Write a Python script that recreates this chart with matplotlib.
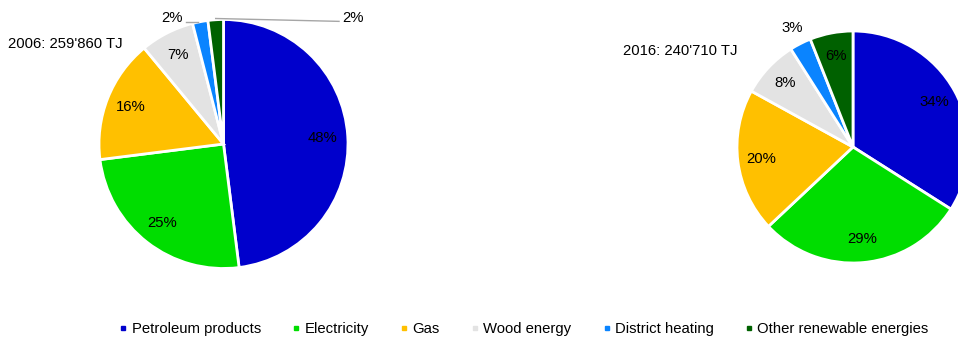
import numpy as np
import matplotlib
matplotlib.use("Agg")
import matplotlib.pyplot as plt
from matplotlib.lines import Line2D

plt.rcParams['font.family'] = ['Liberation Sans', 'DejaVu Sans']
plt.rcParams['font.size'] = 10.7

# 数据
categories = ["Petroleum products", "Electricity", "Gas", "Wood energy",
              "District heating", "Other renewable energies"]
colors = ["#0000CC", "#00DD00", "#FFC000", "#E3E3E3", "#0A84FF", "#006100"]
share_2006 = [48, 25, 16, 7, 2, 2]
share_2016 = [34, 29, 20, 8, 3, 6]
title_2006 = "2006: 259'860 TJ"
title_2016 = "2016: 240'710 TJ"

W, H = 958, 342
fig = plt.figure(figsize=(W / 100, H / 100), dpi=100)


def pie_axes(cx, cy, r):
    # 按像素位置放置饼图
    return fig.add_axes([(cx - r) / W, (H - cy - r) / H, 2 * r / W, 2 * r / H])


def draw_pie(ax, values):
    wedges, _ = ax.pie(values, colors=colors, startangle=90, counterclock=False,
                       radius=1, wedgeprops=dict(edgecolor="white", linewidth=2))
    ax.set_xlim(-1, 1)
    ax.set_ylim(-1, 1)
    ax.set_aspect("auto")
    ax.axis("off")
    return wedges


def mid_dir(w):
    a = np.deg2rad((w.theta1 + w.theta2) / 2)
    return np.cos(a), np.sin(a)


# 2006
ax1 = pie_axes(223.5, 144, 124.5)
w1 = draw_pie(ax1, share_2006)
for i, (w, v) in enumerate(zip(w1, share_2006)):
    dx, dy = mid_dir(w)
    if i < 4:
        ax1.text(0.8 * dx, 0.8 * dy, f"{v}%", ha="center", va="center")

# 小扇区: 引线标签
dx, dy = mid_dir(w1[4])
ax1.plot([-0.30, dx - 0.02], [0.98, 0.98], color="#A6A6A6", lw=1, clip_on=False)
ax1.text(-0.41, 1.01, f"{share_2006[4]}%", ha="center", va="center")
dx, dy = mid_dir(w1[5])
ax1.plot([dx, 0.928], [dy + 0.01, 0.985], color="#A6A6A6", lw=1, clip_on=False)
ax1.text(1.04, 1.01, f"{share_2006[5]}%", ha="center", va="center")
fig.text(8 / W, 1 - 44 / H, title_2006, ha="left", va="center")

# 2016
ax2 = pie_axes(853, 147, 116)
w2 = draw_pie(ax2, share_2016)
for i, (w, v) in enumerate(zip(w2, share_2016)):
    dx, dy = mid_dir(w)
    d = 1.15 if i == 4 else 0.8
    ax2.text(d * dx, d * dy, f"{v}%", ha="center", va="center", clip_on=False)
fig.text(623 / W, 1 - 51 / H, title_2016, ha="left", va="center")

# 图例
handles = [Line2D([], [], marker="s", linestyle="none", markersize=3.2,
                  markerfacecolor=c, markeredgecolor=c) for c in colors]
fig.legend(handles, categories, ncol=6, loc="center",
           bbox_to_anchor=(524 / W, 1 - 329 / H), frameon=False,
           handlelength=0.5, handletextpad=0.3, columnspacing=2.13,
           borderpad=0, fontsize=10.7)

fig.savefig("out.png", dpi=100)
